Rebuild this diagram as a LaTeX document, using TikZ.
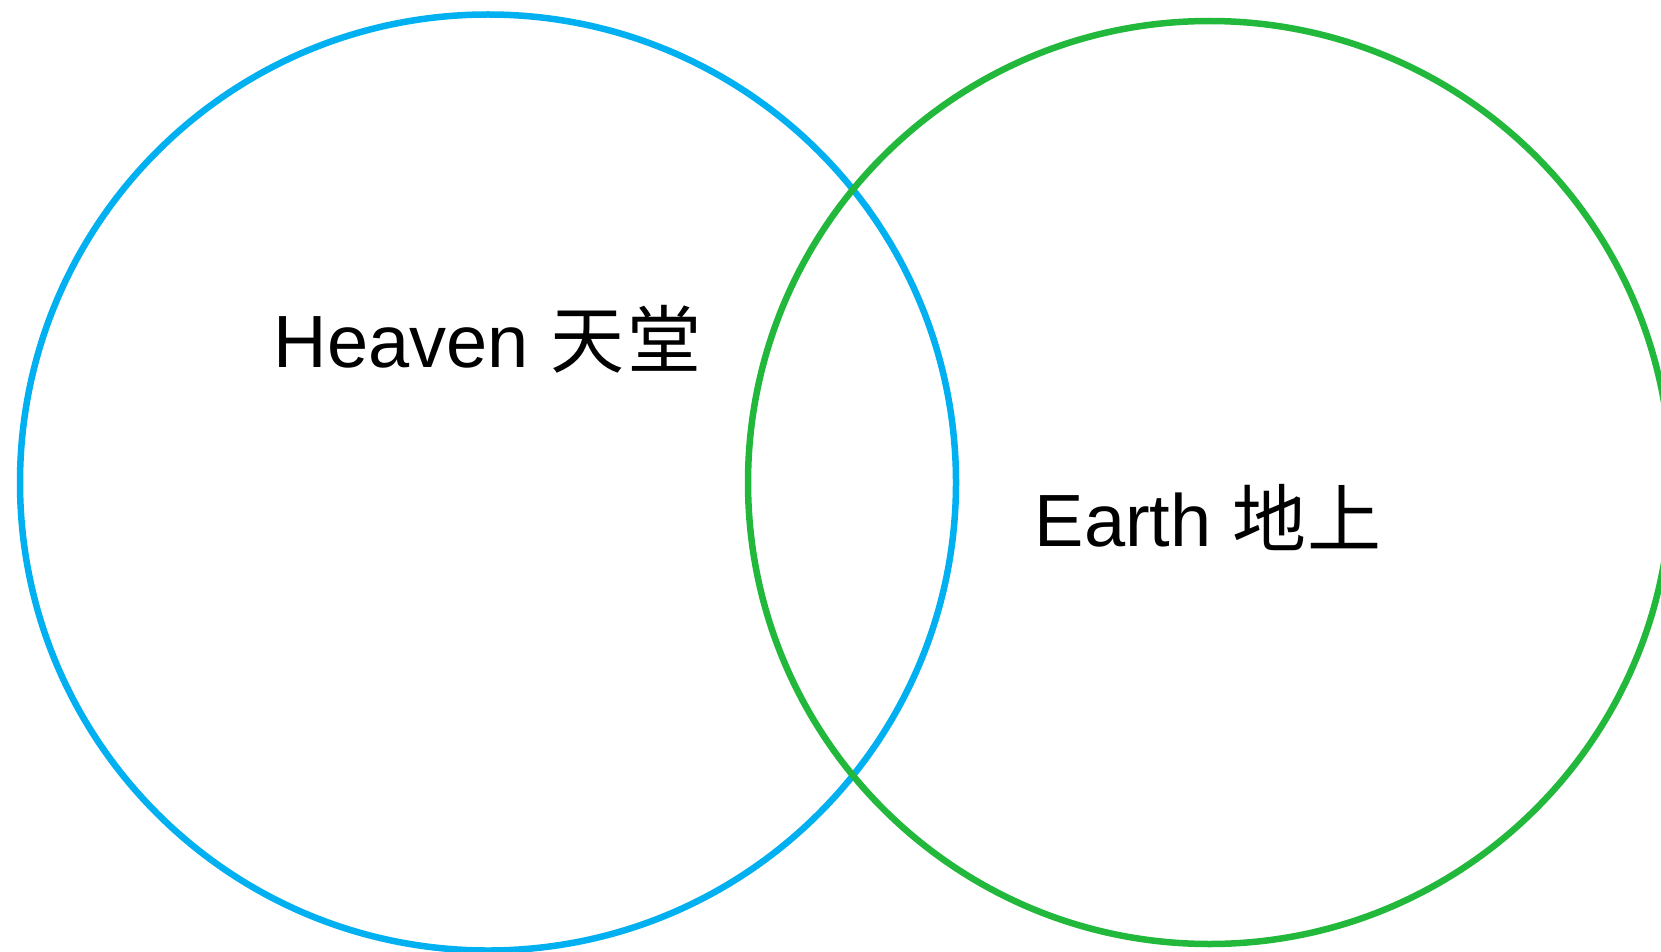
\documentclass[tikz,border=0pt]{standalone}
\usepackage{fontspec}
\setmainfont{Liberation Sans}
\newfontfamily\cjk{Noto Sans CJK SC}
\definecolor{heavenblue}{HTML}{00B0F0}
\definecolor{earthgreen}{HTML}{22B83C}
\begin{document}
\begin{tikzpicture}[x=1pt,y=-1pt,
  ring/.style={circle,draw,line width=6.5pt,inner sep=0pt,outer sep=0pt},
  lbl/.style={inner sep=0pt,anchor=base west,font=\fontsize{74}{80}\selectfont}]
\useasboundingbox (0,0) rectangle (1661,952);
\node[ring,draw=heavenblue,minimum size=936pt] (heaven) at (488,482.5) {};
\node[ring,draw=earthgreen,minimum size=923pt] (earth) at (1209.5,482.5) {};
\node[lbl] (heavenlbl) at (273.5,367.6) {Heaven\hspace{0.3em}{\cjk 天\hspace{0.04em}堂}};
\node[lbl] (earthlbl) at (1034.5,546.6) {Earth {\cjk 地\hspace{0.02em}上}};
\end{tikzpicture}
\end{document}
